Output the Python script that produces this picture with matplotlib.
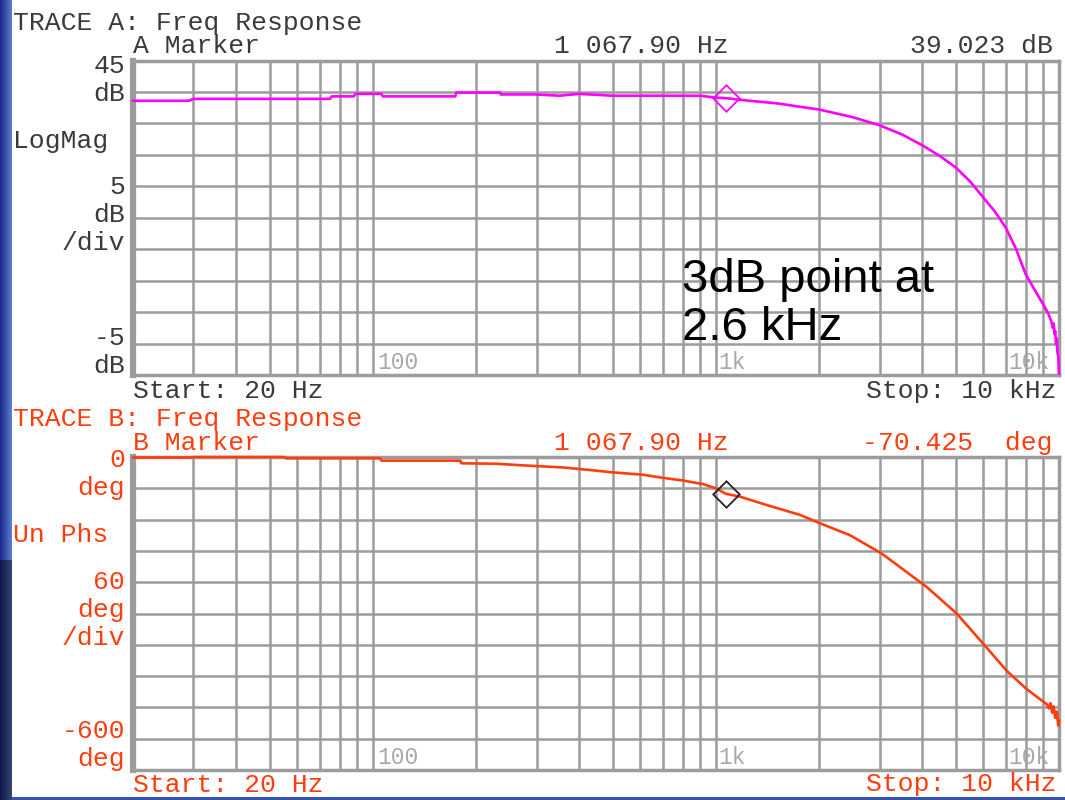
import numpy as np
import matplotlib
matplotlib.use("Agg")
import matplotlib.pyplot as plt

# trace A : log magnitude (dB) vs frequency (Hz)
mag_freq = [20, 29, 30, 75, 76, 88, 89, 106, 107, 174, 175, 235, 236, 300, 350, 400, 500,
            600, 900, 1000, 1067.9, 1250, 1500, 2000, 2500, 3000, 3500, 4000, 4500, 5000,
            5500, 6000, 6500, 7000, 7500, 8000, 8500, 9000, 9300, 9500, 9600, 9650, 9700,
            9750, 9800, 9850, 9900, 9950, 10000]
mag_db = [38.6, 38.6, 38.9, 38.9, 39.3, 39.3, 39.7, 39.7, 39.3, 39.3, 39.9, 39.9, 39.6, 39.6,
          39.4, 39.7, 39.4, 39.4, 39.4, 39.1, 39.023, 38.6, 38.2, 37.2, 36.0, 34.7, 33.2,
          31.5, 29.8, 28.0, 25.8, 23.3, 21.0, 18.4, 15.0, 11.0, 8.5, 6.2, 4.8, 3.5, 2.5,
          3.2, 1.5, 2.0, 0.0, 0.8, -1.5, -2.0, -4.8]

# trace B : unwrapped phase (deg) vs frequency (Hz)
phs_freq = [20, 29, 30, 55, 56, 105, 106, 180, 181, 230, 274, 358, 430, 491, 613, 701, 801,
            917, 1000, 1067.9, 1175, 1405, 1759, 2010, 2461, 3042, 3760, 4113, 5031, 6015,
            7042, 8054, 9210, 9350, 9450, 9550, 9650, 9750, 9850, 9950, 10000]
phs_deg = [-1, -1, 0, 0, -2.5, -2.5, -7, -7, -12, -13, -16, -20, -25, -29, -34, -40, -45,
           -52, -60, -70.425, -76, -92, -111, -127, -150, -185, -230, -249, -300, -358,
           -410, -445, -474, -482, -472, -490, -478, -500, -488, -515, -505]

marker_freq = 1067.90
marker_db = 39.023
marker_deg = -70.425

grid_freqs = [20, 30, 40, 50, 60, 70, 80, 90, 100, 200, 300, 400, 500, 600, 700, 800, 900,
              1000, 2000, 3000, 4000, 5000, 6000, 7000, 8000, 9000, 10000]

W, H = 1065, 800
GRID = "#9c9c9c"
GRAY_TXT = "#3a3a3a"
ORANGE = "#ff3d0d"
MAGENTA = "#ff00ff"
MONO = "Liberation Mono"

fig = plt.figure(figsize=(W / 100, H / 100), dpi=100)
fig.patch.set_facecolor("white")

# blue slide background strip on the left and along the bottom
bg = fig.add_axes([0, 0, 12 / W, 1])
grad = np.linspace(0, 1, 12)[None, :, None]
top = np.array([0.12, 0.16, 0.55])
right = np.array([0.35, 0.50, 0.80])
img = top + (right - top) * grad
img = np.repeat(img, 40, axis=0)
img[28:] *= 0.55
bg.imshow(img, aspect="auto", extent=[0, 1, 0, 1])
bg.axis("off")
fig.add_artist(plt.Rectangle((12 / W, 0), 1, 3 / H, transform=fig.transFigure,
                             color="#3a55b0", lw=0))


def px_axes(x0, y0, x1, y1):
    return fig.add_axes([x0 / W, 1 - y1 / H, (x1 - x0) / W, (y1 - y0) / H])


def put(x, y, s, color=GRAY_TXT, ha="left", size=19):
    # y is the baseline of the last line, in pixels from the top
    fig.text(x / W, 1 - y / H, s, color=color, ha=ha, va="baseline",
             fontsize=size, family=MONO, linespacing=1.22)


ax_a = px_axes(133, 60.5, 1059, 375)
ax_b = px_axes(133, 457, 1059, 770)

for ax in (ax_a, ax_b):
    ax.set_xscale("log")
    ax.set_xlim(20, 10000)
    ax.set_xticks(grid_freqs)
    ax.minorticks_off()
    ax.grid(True, color=GRID, lw=1.8)
    ax.tick_params(length=0, labelbottom=False, labelleft=False)
    for side, sp in ax.spines.items():
        sp.set_color(GRID)
        sp.set_linewidth(4.5 if side == "left" else 2.5)
    ax.set_axisbelow(True)
    xt = ax.get_xaxis_transform()
    ax.text(103, 0.02, "100", transform=xt, color="#a8a8a8", fontsize=16.5,
            family=MONO, va="baseline")
    ax.text(1020, 0.02, "1k", transform=xt, color="#a8a8a8", fontsize=16.5,
            family=MONO, va="baseline")
    ax.text(9400, 0.02, "10k", transform=xt, color="#a8a8a8", fontsize=16.5,
            family=MONO, va="baseline", ha="right")

ax_a.set_ylim(-5, 45)
ax_a.set_yticks(np.arange(-5, 46, 5))
ax_b.set_ylim(-600, 0)
ax_b.set_yticks(np.arange(-600, 1, 60))

ax_a.plot(mag_freq, mag_db, color=MAGENTA, lw=1.9, zorder=3, clip_on=False)
ax_a.plot(marker_freq, marker_db, marker=(4, 0, 0), ms=19, mfc="none", mec=MAGENTA,
          mew=1.3, zorder=4)
ax_b.plot(phs_freq, phs_deg, color=ORANGE, lw=1.9, zorder=3, clip_on=False)
ax_b.plot(marker_freq, marker_deg, marker=(4, 0, 0), ms=19, mfc="none", mec="#222222",
          mew=1.3, zorder=4)

freq_txt = f"{marker_freq:,.2f}".replace(",", " ") + " Hz"

# trace A header and scale labels
put(13, 30, "TRACE A: Freq Response")
put(133, 53, "A Marker")
put(729, 53, freq_txt, ha="right")
put(1053, 53, f"{marker_db:.3f} dB", ha="right")
put(125, 101, "45\ndB", ha="right")
put(13, 148, "LogMag")
put(125, 250.5, "5\ndB\n/div", ha="right")
put(125, 373, "-5\ndB", ha="right")
put(133, 398, "Start: 20 Hz")
put(1057, 398, "Stop: 10 kHz", ha="right")

# trace B header and scale labels
put(13, 426.5, "TRACE B: Freq Response", color=ORANGE)
put(133, 450, "B Marker", color=ORANGE)
put(729, 450, freq_txt, color=ORANGE, ha="right")
put(1053, 450, f"{marker_deg:.3f}  deg", color=ORANGE, ha="right")
put(125, 495, "0\ndeg", color=ORANGE, ha="right")
put(13, 542, "Un Phs", color=ORANGE)
put(125, 645, "60\ndeg\n/div", color=ORANGE, ha="right")
put(125, 766, "-600\ndeg", color=ORANGE, ha="right")
put(133, 791.5, "Start: 20 Hz", color=ORANGE)
put(1057, 791.5, "Stop: 10 kHz", color=ORANGE, ha="right")

# callout
fig.text(682 / W, 1 - 340 / H, "3dB point at\n2.6 kHz", color="black", fontsize=34,
         family="Liberation Sans", va="baseline", linespacing=1.12)

fig.savefig("out.png", dpi=100)
